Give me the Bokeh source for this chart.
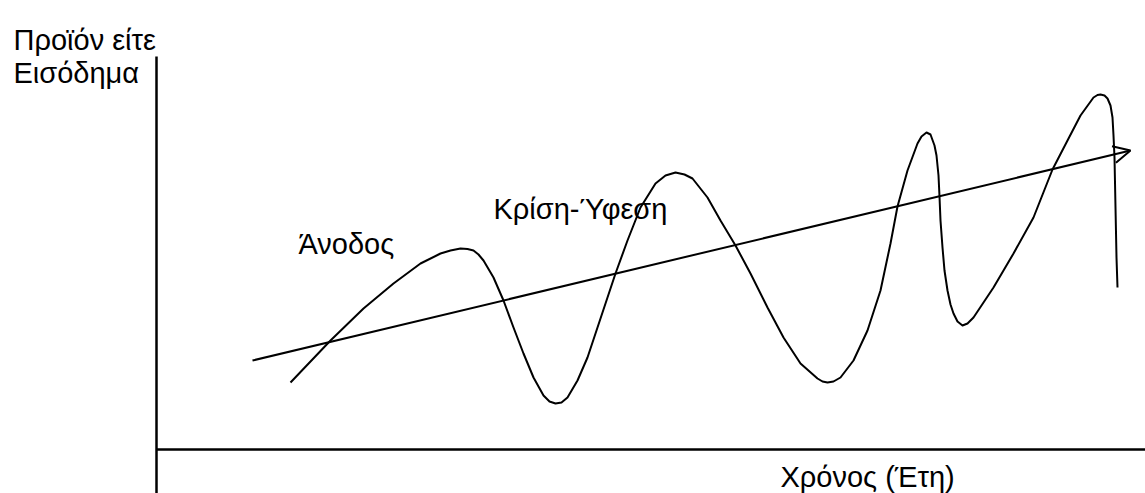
from bokeh.plotting import figure
from bokeh.models import Range1d, Arrow, OpenHead, ColumnDataSource
from bokeh.core.properties import value
from bokeh.embed import file_html
from bokeh.resources import INLINE

# Business-cycle curve (time, output)
cycle_t = [134, 174, 207, 237, 264, 284, 294, 304, 311, 317, 322, 327, 337, 347, 357, 367,
           377, 387, 393, 399, 405, 411, 421, 431, 441, 451, 459, 471, 484, 499, 509, 519,
           528, 536, 551, 564, 579, 594, 611, 627, 644, 661, 666, 671, 677, 684, 697, 711,
           724, 734, 741, 751, 761, 765, 770, 774, 778, 780, 782, 783, 784, 786, 788, 791,
           794, 797, 801, 806, 811, 817, 837, 857, 877, 896, 911, 924, 937, 941, 944, 948,
           951, 954, 956, 957, 958, 959, 960, 961]
cycle_y = [67, 109, 141, 166, 186, 196, 199, 201, 200.5, 199, 195, 189, 172, 149, 122, 96,
           72, 54, 48, 46, 47, 52, 69, 92, 122, 152, 176, 209, 242, 266, 274, 277,
           275, 271, 252, 229, 204, 176, 142, 112, 86, 71, 68, 67, 68, 72, 89, 119,
           159, 206, 243, 279, 306, 313, 317, 315, 304, 294, 274, 253, 229, 202, 179, 159,
           145, 136, 128, 124, 126, 132, 162, 196, 232, 280, 309, 334, 352, 354.5, 355, 354,
           351, 344, 332, 314, 292, 242, 192, 162]

# Long-run trend (start and end)
trend_t = [96, 974]
trend_y = [89, 299]

# Axis extents
axis_t_max = 989
axis_y_max = 393
axis_y_min = -44

# Texts
y_title = ["Προϊόν είτε", "Εισόδημα"]
x_title = "Χρόνος (Έτη)"
phase_labels = ["Άνοδος", "Κρίση-Ύφεση"]

W, H = 1145, 493
p = figure(width=W, height=H, output_backend="svg", toolbar_location=None,
           x_axis_type=None, y_axis_type=None,
           x_range=Range1d(-156, 989), y_range=Range1d(-44, 449),
           min_border=0, outline_line_color=None)
p.background_fill_color = "white"

FONT = value("Liberation Sans")

# axes
p.line([0, 0], [axis_y_min, axis_y_max], line_color="black", line_width=2.5)
p.line([0, axis_t_max], [0, 0], line_color="black", line_width=2.5)

# trend with open arrow head
p.add_layout(Arrow(end=OpenHead(size=17, line_width=2, line_color="black"),
                   x_start=trend_t[0], y_start=trend_y[0],
                   x_end=trend_t[1], y_end=trend_y[1],
                   line_color="black", line_width=2))

# cycle
p.line(cycle_t, cycle_y, line_color="black", line_width=2, line_join="round")

# texts
lab = ColumnDataSource(dict(
    x=[-143, -143, 624, 142, 337],
    y=[410, 377, -27, 206, 241],
    t=[y_title[0], y_title[1], x_title, phase_labels[0], phase_labels[1]],
))
p.text(x="x", y="y", text="t", source=lab, text_font=FONT, text_font_size="29px",
       text_color="black", text_baseline="alphabetic", text_align="left")

open("out.html", "w").write(file_html(p, INLINE))
